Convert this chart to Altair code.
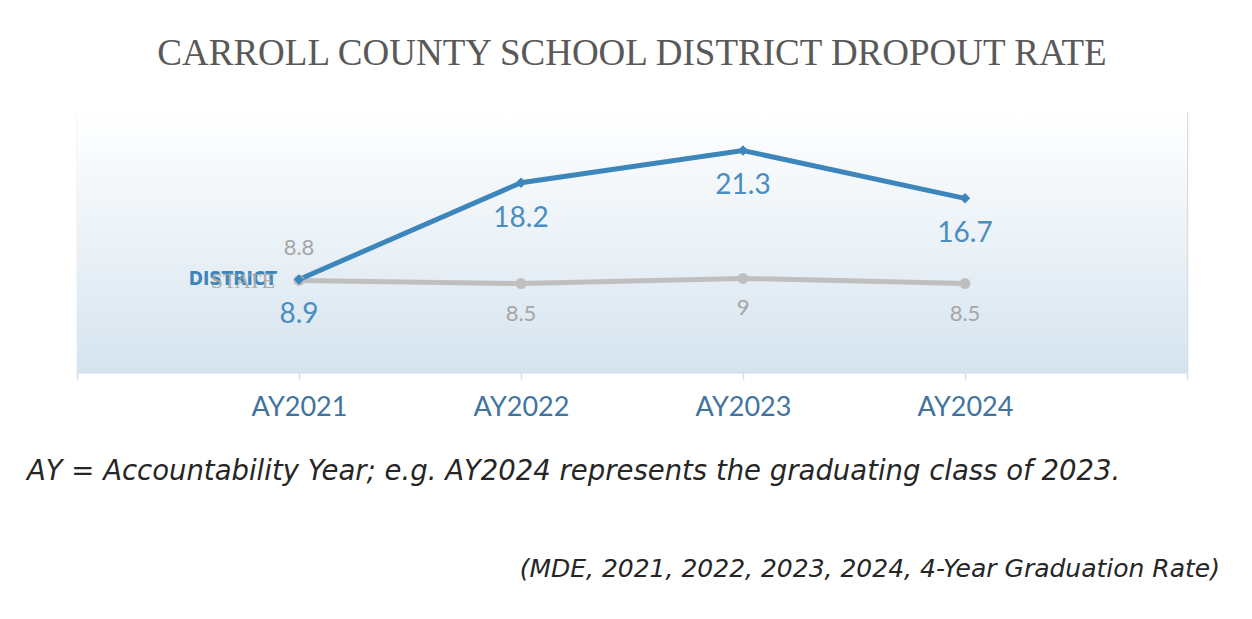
import altair as alt
import pandas as pd

years = [2021, 2022, 2023, 2024]
year_labels = ["AY2021", "AY2022", "AY2023", "AY2024"]
district = [8.9, 18.2, 21.3, 16.7]
state = [8.8, 8.5, 9.0, 8.5]
series_names = ["DISTRICT", "STATE"]
title_text = "CARROLL COUNTY SCHOOL DISTRICT DROPOUT RATE"
note_text = "AY = Accountability Year; e.g. AY2024 represents the graduating class of 2023."
source_text = "(MDE,  2021, 2022, 2023, 2024, 4-Year Graduation Rate)"

BLUE = "#3d86bb"
BLUE_LBL = "#4a8dc0"
AXIS_BLUE = "#41739f"
GRAY = "#bfbfbf"
GRAY_LBL = "#a6a6a6"

df = pd.DataFrame({
    "year": years * 2,
    "value": district + state,
    "series": [series_names[0]] * 4 + [series_names[1]] * 4,
})
df["txt"] = [f"{v:g}" for v in df["value"]]

label_expr = " : ".join(
    f"datum.value == {y} ? '{l}'" for y, l in zip(years, year_labels)
) + " : ''"

xs = alt.Scale(domain=[2020, 2025], nice=False, zero=False)
ys = alt.Scale(domain=[0, 25], nice=False, zero=True)

x_enc = alt.X("year:Q", scale=xs, title=None, axis=alt.Axis(
    values=[2020, 2021, 2022, 2023, 2024, 2025],
    labelExpr=label_expr,
    grid=True, gridColor="#dcdcdc", gridWidth=1.5,
    ticks=True, tickColor="#dcdcdc", tickSize=7, tickWidth=1.5,
    domainColor="#d3e0eb", domainWidth=2,
    labelFont="Lato", labelFontSize=27, labelColor=AXIS_BLUE,
    labelPadding=15, labelFlush=False, labelOverlap=False,
))
y_enc = alt.Y("value:Q", scale=ys, axis=None)

base = alt.Chart(df)

bg = alt.Chart(alt.Data(values=[{}])).mark_rect(
    color=alt.Gradient(
        gradient="linear",
        stops=[alt.GradientStop(color="#ffffff", offset=0),
               alt.GradientStop(color="#d6e4ef", offset=1)],
        x1=0, x2=0, y1=0, y2=1,
    )
).encode(x=alt.value(0), x2=alt.value("width"), y=alt.value(0), y2=alt.value("height"))

is_state = alt.datum.series == "STATE"
is_dist = alt.datum.series == "DISTRICT"
first = alt.datum.year == 2021

gray_line = base.transform_filter(is_state).mark_line(
    color=GRAY, strokeWidth=5).encode(x=x_enc, y=y_enc)
gray_pts = base.transform_filter(is_state).mark_point(
    shape="circle", filled=True, size=120, color=GRAY, opacity=1).encode(x=x_enc, y=y_enc)
blue_line = base.transform_filter(is_dist).mark_line(
    color=BLUE, strokeWidth=5).encode(x=x_enc, y=y_enc)
blue_pts = base.transform_filter(is_dist).mark_point(
    shape="diamond", filled=True, size=110, color=BLUE, opacity=1).encode(x=x_enc, y=y_enc)

blue_lbl = base.transform_filter(is_dist).mark_text(
    dy=36, font="Lato", fontSize=28, color=BLUE_LBL).encode(x=x_enc, y=y_enc, text="txt:N")
gray_lbl_below = base.transform_filter(is_state & (alt.datum.year != 2021)).mark_text(
    dy=30, font="Lato", fontSize=22, color=GRAY_LBL).encode(x=x_enc, y=y_enc, text="txt:N")
gray_lbl_above = base.transform_filter(is_state & first).mark_text(
    dy=-32, font="Lato", fontSize=22, color=GRAY_LBL).encode(x=x_enc, y=y_enc, text="txt:N")

dist_name = base.transform_filter(is_dist & first).mark_text(
    align="right", baseline="middle", dx=-22, dy=0, font="DejaVu Sans Condensed",
    fontWeight="bold", fontSize=19, color=BLUE).encode(x=x_enc, y=y_enc, text="series:N")
state_name = base.transform_filter(is_state & first).mark_text(
    align="right", baseline="middle", dx=-24, dy=1, font="Liberation Serif",
    fontSize=22, color=GRAY_LBL, opacity=0.9).encode(x=x_enc, y=y_enc, text="series:N")

notes = alt.Chart(alt.Data(values=[{"t": note_text}])).mark_text(
    align="left", baseline="alphabetic", font="DejaVu Sans", fontStyle="italic",
    fontSize=27.5, color="#262626").encode(x=alt.value(-50), y=alt.value(368), text="t:N")
source = alt.Chart(alt.Data(values=[{"t": source_text}])).mark_text(
    align="right", baseline="alphabetic", font="DejaVu Sans", fontStyle="italic",
    fontSize=25, color="#262626").encode(x=alt.value(1143), y=alt.value(465), text="t:N")

chart = alt.layer(
    bg, gray_line, blue_line, gray_pts, blue_pts,
    blue_lbl, gray_lbl_below, gray_lbl_above, dist_name, state_name,
    notes, source,
).properties(
    width=1110, height=260,
    title=alt.TitleParams(title_text, font="Liberation Serif", fontSize=37,
                          fontWeight="normal", color="#595959", anchor="middle",
                          baseline="alphabetic", offset=10),
    autosize=alt.AutoSizeParams(type="none"),
    padding={"left": 69, "top": 104, "right": 57, "bottom": 239},
).configure_view(stroke=None).configure(background="white")

chart.save("out.html", embed_options={"renderer": "svg", "actions": False})
